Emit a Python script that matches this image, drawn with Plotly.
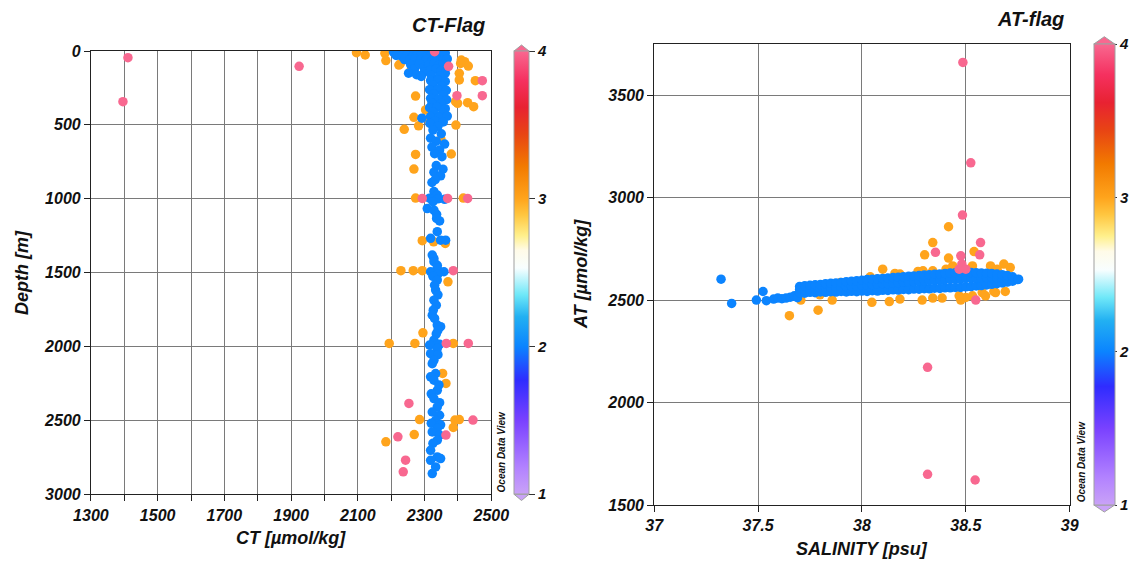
import plotly.graph_objects as go

# ---------------- data: left panel (CT vs depth), by quality flag ----------------
ct_flag3 = [2096, 2122, 2181, 2184, 2227, 2261, 2410, 2420, 2431, 2404, 2404, 2452, 2273, 2429, 2399,
            2447, 2303, 2314, 2268, 2282, 2239, 2394, 2349, 2273, 2380, 2268, 2273, 2416, 2293, 2327,
            2362, 2229, 2266, 2293, 2370, 2295, 2194, 2271, 2386, 2354, 2364, 2285, 2391, 2404, 2386,
            2269, 2184, 2223, 2408, 2393]
depth_flag3 = [11, 27, 16, 65, 88, 117, 61, 72, 102, 151, 196, 201, 305, 350, 354,
               377, 399, 467, 449, 506, 530, 501, 598, 700, 697, 799, 995, 995, 1284, 1291,
               1302, 1487, 1487, 1487, 1562, 1907, 1979, 1979, 1979, 2182, 2250, 2494, 2498, 2494, 2548,
               2596, 2645, 95, 84, 343]

ct_flag2 = [2207, 2222, 2238, 2252, 2266, 2280, 2294, 2308, 2322, 2336, 2350, 2362,
            2215, 2232, 2248, 2262, 2276, 2290, 2304, 2318, 2332, 2346, 2360,
            2240, 2256, 2272, 2288, 2305, 2322, 2338, 2355, 2368,
            2258, 2270, 2252, 2285, 2298, 2312, 2328, 2342, 2356, 2366, 2300, 2318, 2334, 2350, 2362,
            2276, 2290, 2320, 2345,
            2318, 2340, 2362, 2325, 2352, 2315, 2340, 2365, 2328, 2356, 2318, 2342, 2366, 2322, 2350,
            2315, 2338, 2362, 2326, 2354, 2318, 2343, 2368, 2292, 2330, 2356, 2316,
            2340, 2325, 2350, 2318, 2335, 2360, 2322, 2345, 2330, 2352,
            2335, 2355, 2328, 2348, 2332, 2322,
            2328, 2338, 2315, 2340, 2360, 2325, 2308, 2328, 2336, 2336, 2345,
            2338, 2318, 2348, 2363,
            2323, 2328, 2328, 2338, 2338, 2318, 2358, 2340, 2325, 2338, 2330, 2333, 2340, 2328, 2335,
            2326, 2323, 2330, 2338, 2348, 2340, 2335, 2328,
            2328, 2315, 2345, 2338, 2318, 2340, 2328, 2323, 2333, 2318, 2328, 2343, 2338, 2320, 2328,
            2345, 2338, 2323, 2345, 2333, 2320, 2348, 2338, 2323, 2345, 2338, 2325, 2318, 2338, 2318,
            2348, 2333, 2323]
depth_flag2 = [8, 12, 6, 14, 8, 12, 6, 14, 8, 12, 6, 14,
               30, 36, 28, 40, 34, 30, 42, 34, 28, 38, 30,
               58, 64, 56, 62, 58, 66, 58, 62, 54,
               92, 120, 150, 88, 110, 95, 86, 98, 90, 110, 140, 130, 124, 134, 150,
               160, 172, 165, 170,
               200, 196, 206, 230, 236, 262, 260, 266, 290, 296, 320, 324, 330, 352, 356,
               384, 380, 390, 414, 420, 444, 448, 440, 455, 474, 480, 490,
               510, 535, 560, 590, 610, 630, 650, 670, 695, 715,
               775, 800, 820, 845, 870, 890,
               951, 975, 996, 1000, 1004, 1020, 1066, 1077, 1105, 1133, 1150,
               1223, 1268, 1280, 1280,
               1381, 1405, 1426, 1450, 1471, 1494, 1494, 1510, 1525, 1550, 1585, 1618, 1650, 1686, 1720,
               1754, 1788, 1810, 1855, 1866, 1890, 1915, 1957,
               1980, 1990, 1985, 2014, 2048, 2055, 2093, 2116, 2183, 2205, 2228, 2260, 2296, 2320, 2352,
               2380, 2409, 2443, 2465, 2499, 2520, 2530, 2555, 2578, 2600, 2634, 2655, 2702, 2747, 2770,
               2758, 2815, 2860]

ct_flag4 = [1411, 1396, 1924, 2372, 2473, 2473, 2397, 2330, 2293, 2369, 2429, 2386,
            2365, 2431, 2253, 2445, 2364, 2220, 2243, 2236]
depth_flag4 = [45, 343, 104, 104, 201, 302, 302, 5, 998, 998, 998, 1487,
               1979, 1979, 2385, 2498, 2599, 2611, 2769, 2848]

# ---------------- data: right panel (AT vs salinity), by quality flag ----------------
sal_flag3 = [37.651, 37.789, 38.417, 38.341, 38.302, 38.417, 38.540, 38.437, 38.532, 38.619, 38.683,
             38.714, 38.651, 38.294, 38.341, 38.100, 38.159, 38.183, 38.040,
             37.706, 37.798, 37.857, 38.048, 38.132, 38.183, 38.290, 38.341, 38.386, 38.476, 38.500,
             38.532, 38.595, 38.643, 38.690, 38.635, 38.579, 38.468, 37.897, 38.071, 38.270, 38.405]
at_flag3 = [2424, 2451, 2858, 2781, 2721, 2705, 2737, 2667, 2667, 2667, 2676,
            2659, 2651, 2643, 2643, 2651, 2630, 2627, 2614,
            2500, 2526, 2500, 2489, 2493, 2505, 2500, 2510, 2510, 2500, 2513,
            2521, 2521, 2537, 2542, 2542, 2537, 2521, 2586, 2602, 2640, 2651]

sal_flag2 = [37.322, 37.373, 37.492, 37.524, 37.540, 37.575, 37.595, 37.615, 37.635, 37.655, 37.675, 37.690,
             37.700, 37.700, 37.700, 37.725, 37.725, 37.725, 37.750, 37.750, 37.750, 37.775, 37.775, 37.775,
             37.800, 37.800, 37.800, 37.825, 37.825, 37.825, 37.850, 37.850, 37.850, 37.875, 37.875, 37.875,
             37.900, 37.900, 37.900, 37.925, 37.925, 37.925, 37.950, 37.950, 37.950, 37.975, 37.975, 37.975,
             38.000, 38.000, 38.000, 38.025, 38.025, 38.025, 38.050, 38.050, 38.050, 38.075, 38.075, 38.075,
             38.100, 38.100, 38.100, 38.125, 38.125, 38.125, 38.150, 38.150, 38.150, 38.175, 38.175, 38.175,
             38.200, 38.200, 38.200, 38.225, 38.225, 38.225, 38.250, 38.250, 38.250, 38.275, 38.275, 38.275,
             38.300, 38.300, 38.300, 38.325, 38.325, 38.325, 38.350, 38.350, 38.350, 38.375, 38.375, 38.375,
             38.400, 38.400, 38.400, 38.425, 38.425, 38.425, 38.450, 38.450, 38.450, 38.475, 38.475, 38.475,
             38.500, 38.500, 38.500, 38.525, 38.525, 38.525, 38.550, 38.550, 38.550, 38.575, 38.575, 38.575,
             38.600, 38.600, 38.600, 38.625, 38.625, 38.625, 38.650, 38.650, 38.650, 38.675, 38.675, 38.675,
             38.700, 38.700, 38.700, 38.725, 38.725, 38.725, 38.750, 38.754]
at_flag2 = [2602, 2484, 2500, 2542, 2497, 2505, 2510, 2507, 2510, 2514, 2521, 2512,
            2536, 2552, 2566, 2534, 2550, 2570, 2538, 2555, 2572, 2536, 2556, 2575,
            2540, 2558, 2576, 2538, 2560, 2580, 2541, 2562, 2582, 2539, 2563, 2584,
            2542, 2565, 2586, 2540, 2566, 2590, 2543, 2568, 2592, 2541, 2570, 2594,
            2544, 2572, 2597, 2542, 2573, 2600, 2546, 2575, 2602, 2544, 2577, 2604,
            2548, 2580, 2606, 2547, 2581, 2608, 2550, 2583, 2610, 2549, 2585, 2612,
            2552, 2587, 2614, 2551, 2588, 2616, 2554, 2590, 2618, 2553, 2592, 2620,
            2556, 2594, 2622, 2555, 2595, 2624, 2558, 2597, 2626, 2557, 2598, 2628,
            2560, 2600, 2630, 2560, 2601, 2632, 2562, 2603, 2634, 2562, 2604, 2635,
            2565, 2606, 2636, 2566, 2607, 2635, 2569, 2608, 2634, 2571, 2609, 2632,
            2574, 2610, 2631, 2577, 2610, 2630, 2580, 2608, 2627, 2584, 2607, 2624,
            2588, 2605, 2620, 2592, 2604, 2614, 2600, 2602]

sal_flag4 = [38.486, 38.524, 38.484, 38.571, 38.354, 38.567, 38.476, 38.481, 38.468, 38.500, 38.548,
             38.316, 38.316, 38.545]
at_flag4 = [3660, 3170, 2915, 2781, 2733, 2721, 2716, 2676, 2651, 2651, 2500,
            2172, 1650, 1622]

flag_values = [1, 2, 3, 4]
flag_labels = ["1", "2", "3", "4"]

# ---------------- styling ----------------
# the page body has an 8px margin, so the figure is drawn 8px in from the window corner
PAGE_OFF = 8
W, H = 1138 - 2 * PAGE_OFF, 567 - 2 * PAGE_OFF
FONT = "Liberation Sans"
odv_scale = [
    [0.00, "#c9a2f7"], [0.06, "#b282ff"], [0.165, "#7a42ff"], [0.257, "#2f2cff"],
    [0.333, "#0b84ff"], [0.40, "#22b0f2"], [0.45, "#6fe8f8"], [0.51, "#f8feff"],
    [0.55, "#fffbe8"], [0.583, "#fff08c"], [0.63, "#ffc640"], [0.667, "#ffa41c"],
    [0.74, "#f27a00"], [0.813, "#e84414"], [0.873, "#e82232"], [0.933, "#f5305f"],
    [1.00, "#f86890"],
]


def px_x(p):
    return (p - PAGE_OFF) / W


def px_y(p):
    return 1 - (p - PAGE_OFF) / H


L_dom_x = [px_x(91.5), px_x(494.8)]
L_dom_y = [px_y(494.3), px_y(51.0)]
R_dom_x = [px_x(658.8), px_x(1077.3)]
R_dom_y = [px_y(505.0), px_y(44.0)]

tickfont = dict(family=FONT, size=16, color="#111", weight="bold", style="italic")
titlefont = dict(family=FONT, size=18, color="#111", weight="bold", style="italic")


def colorbar(x0, thick, ytop, ybot, tlen):
    return dict(
        x=px_x(x0), xanchor="left", xpad=0, ypad=0,
        y=px_y((ytop + ybot) / 2), yanchor="middle",
        len=ybot - ytop, lenmode="pixels",
        thickness=thick, thicknessmode="pixels",
        outlinewidth=1, outlinecolor="#a0a0a0",
        tickmode="array", tickvals=flag_values, ticktext=flag_labels,
        ticks="outside", ticklen=tlen, tickcolor="#333",
        tickfont=dict(family=FONT, size=15, color="#111", weight="bold", style="italic"),
    )


fig = go.Figure()

ct_all = ct_flag3 + ct_flag2 + ct_flag4
dep_all = depth_flag3 + depth_flag2 + depth_flag4
flag_left = [3] * len(ct_flag3) + [2] * len(ct_flag2) + [4] * len(ct_flag4)

fig.add_trace(go.Scatter(
    x=ct_all, y=dep_all, mode="markers", xaxis="x", yaxis="y", showlegend=False,
    marker=dict(size=9.5, color=flag_left, colorscale=odv_scale, cmin=1, cmax=4,
                line=dict(width=0), showscale=True, colorbar=colorbar(517.7, 15, 51.0, 494.3, 6)),
))

sal_all = sal_flag3 + sal_flag2 + sal_flag4
at_all = at_flag3 + at_flag2 + at_flag4
flag_right = [3] * len(sal_flag3) + [2] * len(sal_flag2) + [4] * len(sal_flag4)

fig.add_trace(go.Scatter(
    x=sal_all, y=at_all, mode="markers", xaxis="x2", yaxis="y2", showlegend=False,
    marker=dict(size=9.5, color=flag_right, colorscale=odv_scale, cmin=1, cmax=4,
                line=dict(width=0), showscale=True, colorbar=colorbar(1101.7, 21, 44.0, 505.0, 2)),
))

grid = "#7a7a7a"
axis_common = dict(showline=True, linecolor="#222", linewidth=1, mirror=True,
                   ticks="outside", ticklen=6, tickcolor="#222", tickwidth=1,
                   showgrid=True, gridcolor=grid, gridwidth=1, zeroline=False,
                   tickfont=tickfont, automargin=False, fixedrange=True)

fig.update_layout(
    width=W, height=H, margin=dict(l=0, r=0, t=0, b=0),
    paper_bgcolor="white", plot_bgcolor="white", template="none",
    xaxis=dict(domain=L_dom_x, range=[1300, 2500], anchor="y", tickmode="linear", tick0=1300, dtick=200,
               minor=dict(tick0=1300, dtick=100, showgrid=True, gridcolor=grid, ticks="outside",
                          ticklen=6, tickcolor="#222"),
               **axis_common),
    yaxis=dict(domain=L_dom_y, range=[3000, 0], anchor="x", tickmode="linear", tick0=0, dtick=500,
               **axis_common),
    xaxis2=dict(domain=R_dom_x, range=[37, 39], anchor="y2", tickmode="linear", tick0=37, dtick=0.5,
                **axis_common),
    yaxis2=dict(domain=R_dom_y, range=[1500, 3750], anchor="x2", tickmode="linear", tick0=1500, dtick=500,
                **axis_common),
)


def tri(x0, x1, ybase, ytip, color):
    xm = (x0 + x1) / 2
    return dict(type="path", xref="paper", yref="paper",
                path=f"M {px_x(x0)} {px_y(ybase)} L {px_x(x1)} {px_y(ybase)} L {px_x(xm)} {px_y(ytip)} Z",
                fillcolor=color, line=dict(color="#a0a0a0", width=1))


fig.update_layout(shapes=[
    tri(517.7, 532.7, 51.0, 45.0, "#f86890"),
    tri(517.7, 532.7, 494.3, 500.5, "#c9a2f7"),
    tri(1101.7, 1122.7, 44.0, 36.7, "#f86890"),
    tri(1101.7, 1122.7, 505.0, 512.0, "#c9a2f7"),
])


def ann(text, x, y, font, angle=0, xanchor="center"):
    return dict(text=text, x=px_x(x), y=px_y(y), xref="paper", yref="paper", showarrow=False,
                xanchor=xanchor, yanchor="middle", textangle=angle, font=font)


odv_font = dict(family=FONT, size=10, color="#111", weight="bold", style="italic")
fig.update_layout(annotations=[
    ann("CT-Flag", 490, 25, dict(family=FONT, size=20, color="#111", weight="bold", style="italic"), xanchor="right"),
    ann("AT-flag", 1073.6, 19, dict(family=FONT, size=20, color="#111", weight="bold", style="italic"), xanchor="right"),
    ann("CT [µmol/kg]", 293, 538, titlefont),
    ann("SALINITY [psu]", 868, 549, titlefont),
    ann("Depth [m]", 22, 272, titlefont, angle=-90),
    ann("AT [µmol/kg]", 585, 274, titlefont, angle=-90),
    ann("Ocean Data View", 505, 452, odv_font, angle=-90),
    ann("Ocean Data View", 1089, 462, odv_font, angle=-90),
])

fig.write_html("out.html")
